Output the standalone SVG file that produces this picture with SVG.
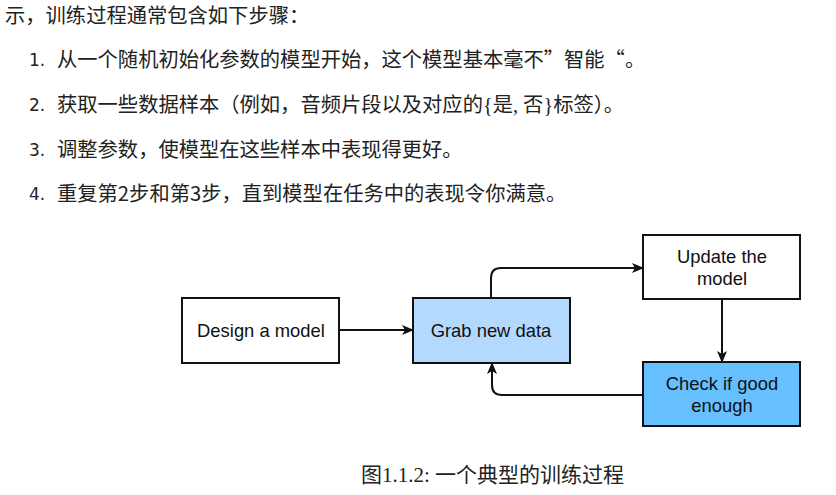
<svg xmlns="http://www.w3.org/2000/svg" width="836" height="495" viewBox="0 0 836 495">
<style>
.cjk{font-family:"Noto Sans CJK SC","Noto Sans",sans-serif;font-size:20.3px;fill:#222}
.num{font-family:"DejaVu Sans",sans-serif;font-size:17px;fill:#222}
.ser{font-family:"Liberation Serif","Noto Sans CJK SC",serif}
.box{stroke:#111;stroke-width:2}
.lbl{font-family:"Liberation Sans",Arial,sans-serif;font-size:18.4px;fill:#111;text-anchor:middle}
.edge{fill:none;stroke:#111;stroke-width:2}
.cap{font-family:"Liberation Serif","Noto Sans CJK SC",serif;font-size:21px;fill:#222}
</style>
<defs>
<marker id="arr" viewBox="0 0 12 10" refX="11" refY="5" markerWidth="12" markerHeight="10" markerUnits="userSpaceOnUse" orient="auto">
<path d="M0,0 L12,5 L0,10 L3,5 Z" fill="#111"/>
</marker>
</defs>
<rect width="836" height="495" fill="#fff"/>
<g id="text">
<text class="cjk" x="5" y="23">示，训练过程通常包含如下步骤：</text>
<text class="num" x="29" y="66">1.</text>
<text class="cjk" x="57" y="67">从一个随机初始化参数的模型开始，这个模型基本毫不”智能“。</text>
<text class="num" x="29" y="111">2.</text>
<text class="cjk" x="57" y="112">获取一些数据样本（例如，音频片段以及对应的<tspan class="ser">{</tspan>是<tspan class="ser">, </tspan>否<tspan class="ser">}</tspan>标签）。</text>
<text class="num" x="29" y="156">3.</text>
<text class="cjk" x="57" y="157">调整参数，使模型在这些样本中表现得更好。</text>
<text class="num" x="29" y="200">4.</text>
<text class="cjk" x="57" y="201">重复第2步和第3步，直到模型在任务中的表现令你满意。</text>
</g>
<g id="connectors">
<path class="edge" d="M339,330 H413" marker-end="url(#arr)"/>
<path class="edge" d="M491,297 V278 Q491,268 501,268 H643" marker-end="url(#arr)"/>
<path class="edge" d="M722,299 V362" marker-end="url(#arr)"/>
<path class="edge" d="M643,395 H502 Q492,395 492,385 V363" marker-end="url(#arr)"/>
</g>
<g id="node-design">
<rect class="box" x="182" y="298" width="157" height="65" fill="#fff"/>
<text class="lbl" x="261" y="337">Design a model</text>
</g>
<g id="node-grab">
<rect class="box" x="413" y="298" width="157" height="65" fill="#b3d9ff"/>
<text class="lbl" x="491" y="337">Grab new data</text>
</g>
<g id="node-update">
<rect class="box" x="643" y="235" width="157" height="64" fill="#fff"/>
<text class="lbl" x="722" y="263">Update the</text>
<text class="lbl" x="722" y="285">model</text>
</g>
<g id="node-check">
<rect class="box" x="643" y="362" width="157" height="64" fill="#66bfff"/>
<text class="lbl" x="722" y="390">Check if good</text>
<text class="lbl" x="722" y="412">enough</text>
</g>
<g id="caption">
<text class="cap" x="361" y="482">图1.1.2: 一个典型的训练过程</text>
</g>
</svg>
